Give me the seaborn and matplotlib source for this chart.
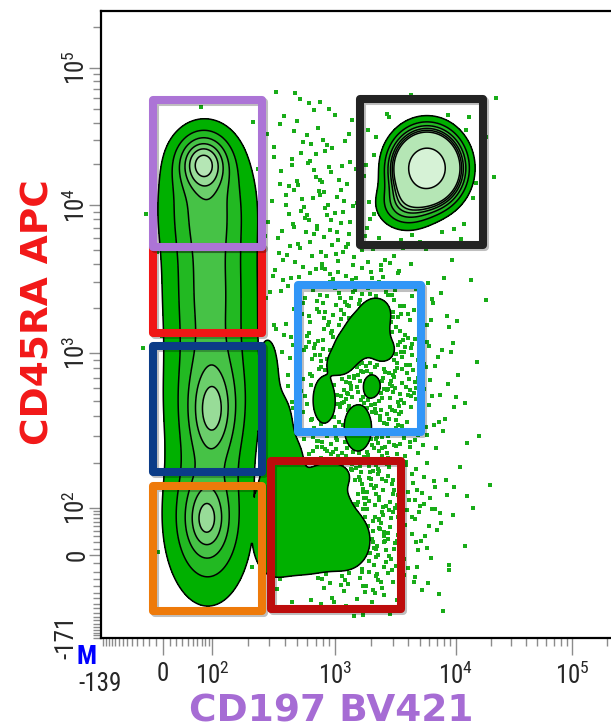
import numpy as np
import pandas as pd
import matplotlib
matplotlib.use("Agg")
import matplotlib.pyplot as plt
from matplotlib import font_manager, patheffects as pe
from matplotlib.font_manager import FontProperties
from matplotlib.patches import Rectangle
from matplotlib.ticker import FixedLocator
import seaborn as sns

# ---------------- data (values in channel units) ----------------
x_tick_values = [0, 1e2, 1e3, 1e4, 1e5]
x_tick_labels = ["0", "$10^{2}$", "$10^{3}$", "$10^{4}$", "$10^{5}$"]
y_tick_values = [0, 1e2, 1e3, 1e4, 1e5]
y_tick_labels = ["0", "$10^{2}$", "$10^{3}$", "$10^{4}$", "$10^{5}$"]
x_minor_values = ([v for v in range(-130, 0, 10)] + [v for v in range(10, 100, 10)]
                  + [k * 10 ** e for e in (2, 3, 4) for k in range(2, 10)] + [2e5])
y_minor_values = ([v for v in range(-170, 0, 10)] + [v for v in range(10, 100, 10)]
                  + [k * 10 ** e for e in (2, 3, 4) for k in range(2, 10)] + [2e5])
x_range = [-139, 262144]
y_range = [-171, 262144]
x_min_label = "-139"
y_min_label = "-171"
x_title = "CD197 BV421"
y_title = "CD45RA APC"

# main populations (multi-level contours): centre x, centre y, weight
core_x = [85, 93, 100, 87, 74, 100, 82, 5760, 3860]
core_y = [10880, 2665, 505, 65, 20600, 424, 65, 18600, 10170]
core_w = [4.5, 4.5, 5.0, 5.0, 7.5, 3.3, 3.3, 70, 5.5]
core_sx = [27, 26, 26, 25, 16, 14, 13, 16.5, 16]
core_sy = [40, 50, 50, 48, 18, 28, 22, 18, 14]

# minor populations (outer contour only)
sat_x = [2183, 1735, 1331, 1101, 2494, 818, 1549, 2023, 2023, 733, 1280, 578, 913, 339, 423, 315, 290]
sat_y = [1890, 1430, 1080, 865, 1048, 505, 336, 620, 1365, 117, 24, 4.6, 167, 336, 206, 60, 780]
sat_w = [2.5] * 17
sat_sx = [10, 12, 11, 8, 8, 8, 10, 6, 10, 20, 16, 22, 12, 12, 10, 15, 7]
sat_sy = [10, 12, 11, 8, 8, 17, 17, 8, 10, 16, 20, 16, 8, 26, 14, 35, 22]

# sparse events (dot density regions)
dot_x = [1870, 1620, 694, 5545, 93, 1200]
dot_y = [800, 42, 9250, 16570, 676, 220]
dot_rate = [0.16, 0.14, 0.045, 0.025, 0.007, 0.055]
dot_sx = [40, 42, 35, 45, 50, 40]
dot_sy = [60, 45, 90, 50, 170, 20]

contour_levels = [1.0, 2.6, 4.4, 6.2, 7.8, 9.5, 38.0]
band_colors = ["#00B000", "#22B922", "#46C246", "#6BCE6B", "#98DC98", "#B5E6B5", "#D6F2D6"]

# gates
gate_names = ["Red", "Purple", "DarkBlue", "Orange", "DarkRed", "LightBlue", "Black"]
gate_x0 = [-14, -14, -14, -14, 309, 507, 1610]
gate_x1 = [262, 262, 262, 262, 3510, 5137, 17100]
gate_y0 = [1366, 5200, 175, -86, -81, 315, 5370]
gate_y1 = [5200, 58300, 1115, 141, 206, 2860, 59800]
gate_colors = ["#F01616", "#AC74D6", "#0B3C88", "#EE7A0A", "#BD0C0C", "#3196F7", "#232323"]

# ---------------- scale (biexponential-like display) ----------------
W, H = 611, 728
x_cal_values = [-139, 0, 1e2, 1e3, 1e4, 1e5]
x_cal_px = [101, 163, 212, 335, 456, 572]
y_cal_values = [-171, 0, 1e2, 1e3, 1e4, 1e5]
y_cal_px = [90, 173, 220, 375, 523, 660]


def make_scale(vals, px, cof=50.0):
    a = np.arcsinh(np.asarray(vals, float) / cof)
    p = np.asarray(px, float)
    s0 = (p[1] - p[0]) / (a[1] - a[0])
    s1 = (p[-1] - p[-2]) / (a[-1] - a[-2])

    def fwd(v):
        t = np.arcsinh(np.asarray(v, float) / cof)
        out = np.interp(t, a, p)
        out = np.where(t < a[0], p[0] + (t - a[0]) * s0, out)
        out = np.where(t > a[-1], p[-1] + (t - a[-1]) * s1, out)
        return out

    def inv(q):
        q = np.asarray(q, float)
        t = np.interp(q, p, a)
        t = np.where(q < p[0], a[0] + (q - p[0]) / s0, t)
        t = np.where(q > p[-1], a[-1] + (q - p[-1]) / s1, t)
        return cof * np.sinh(t)

    return fwd, inv


fx, ix = make_scale(x_cal_values, x_cal_px)
fy, iy = make_scale(y_cal_values, y_cal_px)


def gauss_sum(gx, gy, xs, ys, ws, sxs, sys_):
    cx = fx(xs)
    cy = fy(ys)
    out = np.zeros_like(gx, dtype=float)
    for a, b, w, sx, sy in zip(cx, cy, ws, sxs, sys_):
        out += w * np.exp(-0.5 * (((gx - a) / sx) ** 2 + ((gy - b) / sy) ** 2))
    return out


def density(gx, gy):
    core = gauss_sum(gx, gy, core_x, core_y, core_w, core_sx, core_sy)
    sat = gauss_sum(gx, gy, sat_x, sat_y, sat_w, sat_sx, sat_sy)
    return np.maximum(core, np.minimum(sat, 2.0))


def halton(n, base):
    i = np.arange(1, n + 1)
    out = np.zeros(n)
    f = 1.0 / base
    while np.any(i > 0):
        out += f * (i % base)
        i = i // base
        f /= base
    return out


def find_font(keys):
    files = [f.fname for f in font_manager.fontManager.ttflist]
    for key in keys:
        hits = [fn for fn in files if key in fn.lower().replace(" ", "")]
        if hits:
            return hits[0]
    return None


# ---------------- style ----------------
sns.set_style("ticks")
plt.rcParams["font.family"] = ["DejaVu Sans"]
plt.rcParams["mathtext.default"] = "regular"

narrow_file = find_font(["liberationsansnarrow-regular", "arialn.", "robotocondensed-regular",
                         "dejavusanscondensed.", "opensans_condensed-regular",
                         "notosans-condensed."])
narrow_bold = find_font(["liberationsansnarrow-bold.", "robotocondensed-bold.",
                         "dejavusanscondensed-bold.", "notosans-condensedbold."])
if narrow_file:
    tick_prop = FontProperties(fname=narrow_file, size=18)
else:
    tick_prop = FontProperties(family="DejaVu Sans", size=13)
if narrow_bold:
    m_prop = FontProperties(fname=narrow_bold, size=19)
else:
    m_prop = FontProperties(family="DejaVu Sans", weight="bold", size=15)

fig = plt.figure(figsize=(W / 100, H / 100), dpi=100)
left = x_cal_px[0] / W
bottom = y_cal_px[0] / H
width = (float(fx(x_range[1])) - x_cal_px[0]) / W
height = (float(fy(y_range[1])) - y_cal_px[0]) / H
ax = fig.add_axes([left, bottom, width, height])
ax.set_xscale("function", functions=(fx, ix))
ax.set_yscale("function", functions=(fy, iy))
ax.set_xlim(*x_range)
ax.set_ylim(*y_range)

# density grid in display space, mapped back to data units
gxp = np.linspace(101, 640, 560)
gyp = np.linspace(90, 720, 650)
GX, GY = np.meshgrid(gxp, gyp)
D = density(GX, GY)
X = ix(GX)
Y = iy(GY)

# sparse events (deterministic low-discrepancy positions, thinned by density)
seq_n = 40000
hx, hy, hu = halton(seq_n, 2), halton(seq_n, 3), halton(seq_n, 5)
cand_x = 140 + hx * 360
cand_y = 108 + hy * 530
p = gauss_sum(cand_x, cand_y, dot_x, dot_y, dot_rate, dot_sx, dot_sy)
keep = (hu < p) & (density(cand_x, cand_y) < 0.9)
events = pd.DataFrame({"CD197": ix(cand_x[keep]), "CD45RA": iy(cand_y[keep])})
sns.scatterplot(data=events, x="CD197", y="CD45RA", marker="s", s=5,
                color="#18AC18", linewidth=0, ax=ax, zorder=1, legend=False)

ax.contourf(X, Y, D, levels=contour_levels + [1e9], colors=band_colors, zorder=2)
ax.contour(X, Y, D, levels=contour_levels, colors="black", linewidths=1.1, zorder=3)

for x0, x1, y0, y1, c in zip(gate_x0, gate_x1, gate_y0, gate_y1, gate_colors):
    r = Rectangle((x0, y0), x1 - x0, y1 - y0, fill=False, edgecolor=c, linewidth=5.8,
                  joinstyle="round", zorder=5,
                  path_effects=[pe.SimpleLineShadow(offset=(1.5, -1.5), shadow_color="k", alpha=0.25),
                                pe.Normal()])
    ax.add_patch(r)

# axes styling
ax.set_xlabel("")
ax.set_ylabel("")
ax.xaxis.set_major_locator(FixedLocator(x_tick_values))
ax.xaxis.set_minor_locator(FixedLocator(x_minor_values))
ax.yaxis.set_major_locator(FixedLocator(y_tick_values))
ax.yaxis.set_minor_locator(FixedLocator(y_minor_values))
ax.set_xticklabels(x_tick_labels)
ax.set_yticklabels(y_tick_labels, rotation=90, va="center")
for lab in ax.get_xticklabels() + ax.get_yticklabels():
    lab.set_fontproperties(tick_prop)
ax.tick_params(axis="x", which="major", length=12, width=1.0, color="#8c8c8c", pad=5)
ax.tick_params(axis="y", which="major", length=9, width=1.0, color="#8c8c8c", pad=-1)
ax.tick_params(which="minor", length=6, width=1.0, color="#8c8c8c")
for s in ("left", "bottom", "top"):
    ax.spines[s].set_linewidth(1.6)
    ax.spines[s].set_color("black")
ax.spines["right"].set_visible(False)

fig.text(100 / W, 1 - 684 / H, x_min_label, ha="center", va="center", fontproperties=tick_prop)
fig.text(66 / W, 1 - 637 / H, y_min_label, ha="center", va="center", fontproperties=tick_prop,
         rotation=90)
fig.text(86 / W, 1 - 657 / H, "M", ha="center", va="center", color="#0000FF",
         fontproperties=m_prop)
fig.text(331 / W, 1 - 711 / H, x_title, ha="center", va="center", fontsize=27,
         fontweight="bold", color="#A66CD4", family="DejaVu Sans")
fig.text(39 / W, 1 - 312 / H, y_title, ha="center", va="center", fontsize=27,
         fontweight="bold", color="#F21818", family="DejaVu Sans", rotation=90)

fig.savefig("out.png", dpi=100, facecolor="white")
